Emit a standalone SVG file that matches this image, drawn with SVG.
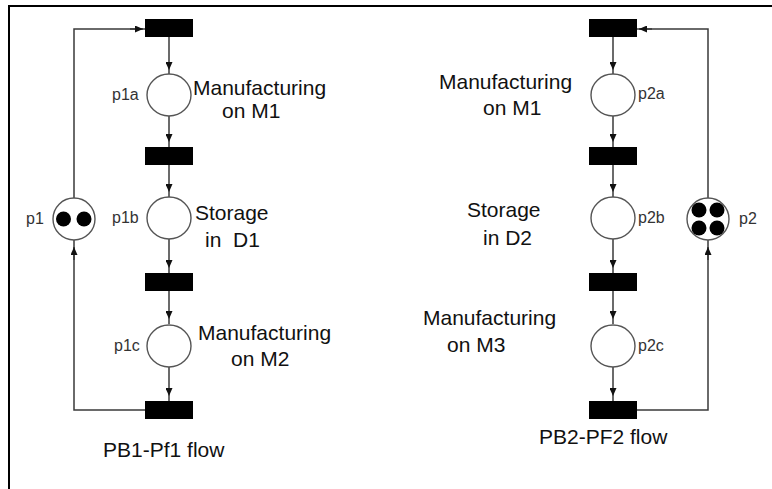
<svg xmlns="http://www.w3.org/2000/svg" width="772" height="489" viewBox="0 0 772 489">
<defs>
<marker id="ah" markerUnits="userSpaceOnUse" markerWidth="8" markerHeight="7" refX="8" refY="3.5" orient="auto">
<path d="M0,0 L8,3.5 L0,7 z" fill="#111"/>
</marker>
<style>
.bg{fill:#fff}
.frame{stroke:#000;stroke-width:2;fill:none}
.arc{stroke:#3a3a3a;stroke-width:1.5;fill:none}
.arm{stroke:#3a3a3a;stroke-width:1.5;fill:none;marker-mid:url(#ah)}
.are{stroke:#3a3a3a;stroke-width:1.5;fill:none;marker-end:url(#ah)}
.tr{fill:#000}
.pl{fill:#fff;stroke:#555;stroke-width:1.4}
.tok{fill:#000}
.lbl{font-family:"Liberation Sans",Arial,sans-serif;font-size:21px;fill:#111}
.pn{font-family:"Liberation Sans",Arial,sans-serif;font-size:16px;fill:#333}
</style>
</defs>
<rect class="bg" x="0" y="0" width="772" height="489"/>
<path class="frame" d="M9,489 L9,6 L772,6"/>

<g id="connectors">
<path class="arm" d="M169,37 L169,70 L169,74"/>
<path class="arm" d="M169,116 L169,142 L169,147"/>
<path class="arm" d="M169,165 L169,192 L169,197"/>
<path class="arm" d="M169,239 L169,268 L169,273"/>
<path class="arm" d="M169,291 L169,319 L169,324"/>
<path class="arm" d="M169,367 L169,396 L169,401"/>
<path class="arc" d="M74,198 L74,29 L145,29"/>
<path class="are" d="M130,29 L143,29"/>
<path class="arc" d="M145,410 L74,410 L74,240"/>
<path class="are" d="M74,260 L74,247"/>
<path class="arm" d="M613,37 L613,70 L613,74"/>
<path class="arm" d="M613,116 L613,142 L613,147"/>
<path class="arm" d="M613,165 L613,192 L613,197"/>
<path class="arm" d="M613,239 L613,268 L613,273"/>
<path class="arm" d="M613,291 L613,319 L613,324"/>
<path class="arm" d="M613,367 L613,396 L613,401"/>
<path class="arc" d="M708,198 L708,29 L637,29"/>
<path class="are" d="M652,29 L639,29"/>
<path class="arc" d="M637,410 L708,410 L708,240"/>
<path class="are" d="M708,260 L708,247"/>
</g>

<g id="t1a"><rect class="tr" x="145" y="19" width="48" height="18"/></g>
<g id="t1b"><rect class="tr" x="145" y="147" width="48" height="18"/></g>
<g id="t1c"><rect class="tr" x="145" y="273" width="48" height="18"/></g>
<g id="t1d"><rect class="tr" x="145" y="401" width="48" height="18"/></g>

<g id="p1"><circle class="pl" cx="74" cy="219" r="21"/><circle class="tok" cx="63.5" cy="219" r="7.5"/><circle class="tok" cx="84" cy="219" r="7.5"/><text class="pn" x="26" y="224">p1</text></g>
<g id="p1a"><ellipse class="pl" cx="169" cy="95" rx="22" ry="21"/><text class="pn" x="112" y="100">p1a</text>
<text class="lbl" x="193" y="95">Manufacturing</text><text class="lbl" x="222" y="118">on M1</text></g>
<g id="p1b"><ellipse class="pl" cx="169" cy="218" rx="22" ry="21"/><text class="pn" x="112" y="223">p1b</text>
<text class="lbl" x="195" y="220">Storage</text><text class="lbl" x="205" y="247">in&#160; D1</text></g>
<g id="p1c"><ellipse class="pl" cx="169" cy="346" rx="22" ry="21"/><text class="pn" x="114" y="351">p1c</text>
<text class="lbl" x="198" y="340">Manufacturing</text><text class="lbl" x="231" y="366">on M2</text></g>
<g id="flow1"><text class="lbl" x="103" y="457">PB1-Pf1 flow</text></g>

<g id="t2a"><rect class="tr" x="589" y="19" width="48" height="18"/></g>
<g id="t2b"><rect class="tr" x="589" y="147" width="48" height="18"/></g>
<g id="t2c"><rect class="tr" x="589" y="273" width="48" height="18"/></g>
<g id="t2d"><rect class="tr" x="589" y="401" width="48" height="18"/></g>

<g id="p2"><circle class="pl" cx="708" cy="219" r="21"/><circle class="tok" cx="699" cy="210" r="7.5"/><circle class="tok" cx="717" cy="210" r="7.5"/><circle class="tok" cx="699" cy="228" r="7.5"/><circle class="tok" cx="717" cy="228" r="7.5"/><text class="pn" x="739" y="224">p2</text></g>
<g id="p2a"><ellipse class="pl" cx="613" cy="95" rx="22" ry="21"/><text class="pn" x="638" y="99">p2a</text>
<text class="lbl" x="439" y="89">Manufacturing</text><text class="lbl" x="483" y="115">on M1</text></g>
<g id="p2b"><ellipse class="pl" cx="613" cy="218" rx="22" ry="21"/><text class="pn" x="638" y="223">p2b</text>
<text class="lbl" x="467" y="217">Storage</text><text class="lbl" x="483" y="245">in D2</text></g>
<g id="p2c"><ellipse class="pl" cx="613" cy="346" rx="22" ry="21"/><text class="pn" x="638" y="351">p2c</text>
<text class="lbl" x="423" y="325">Manufacturing</text><text class="lbl" x="447" y="352">on M3</text></g>
<g id="flow2"><text class="lbl" x="539" y="444">PB2-PF2 flow</text></g>
</svg>
